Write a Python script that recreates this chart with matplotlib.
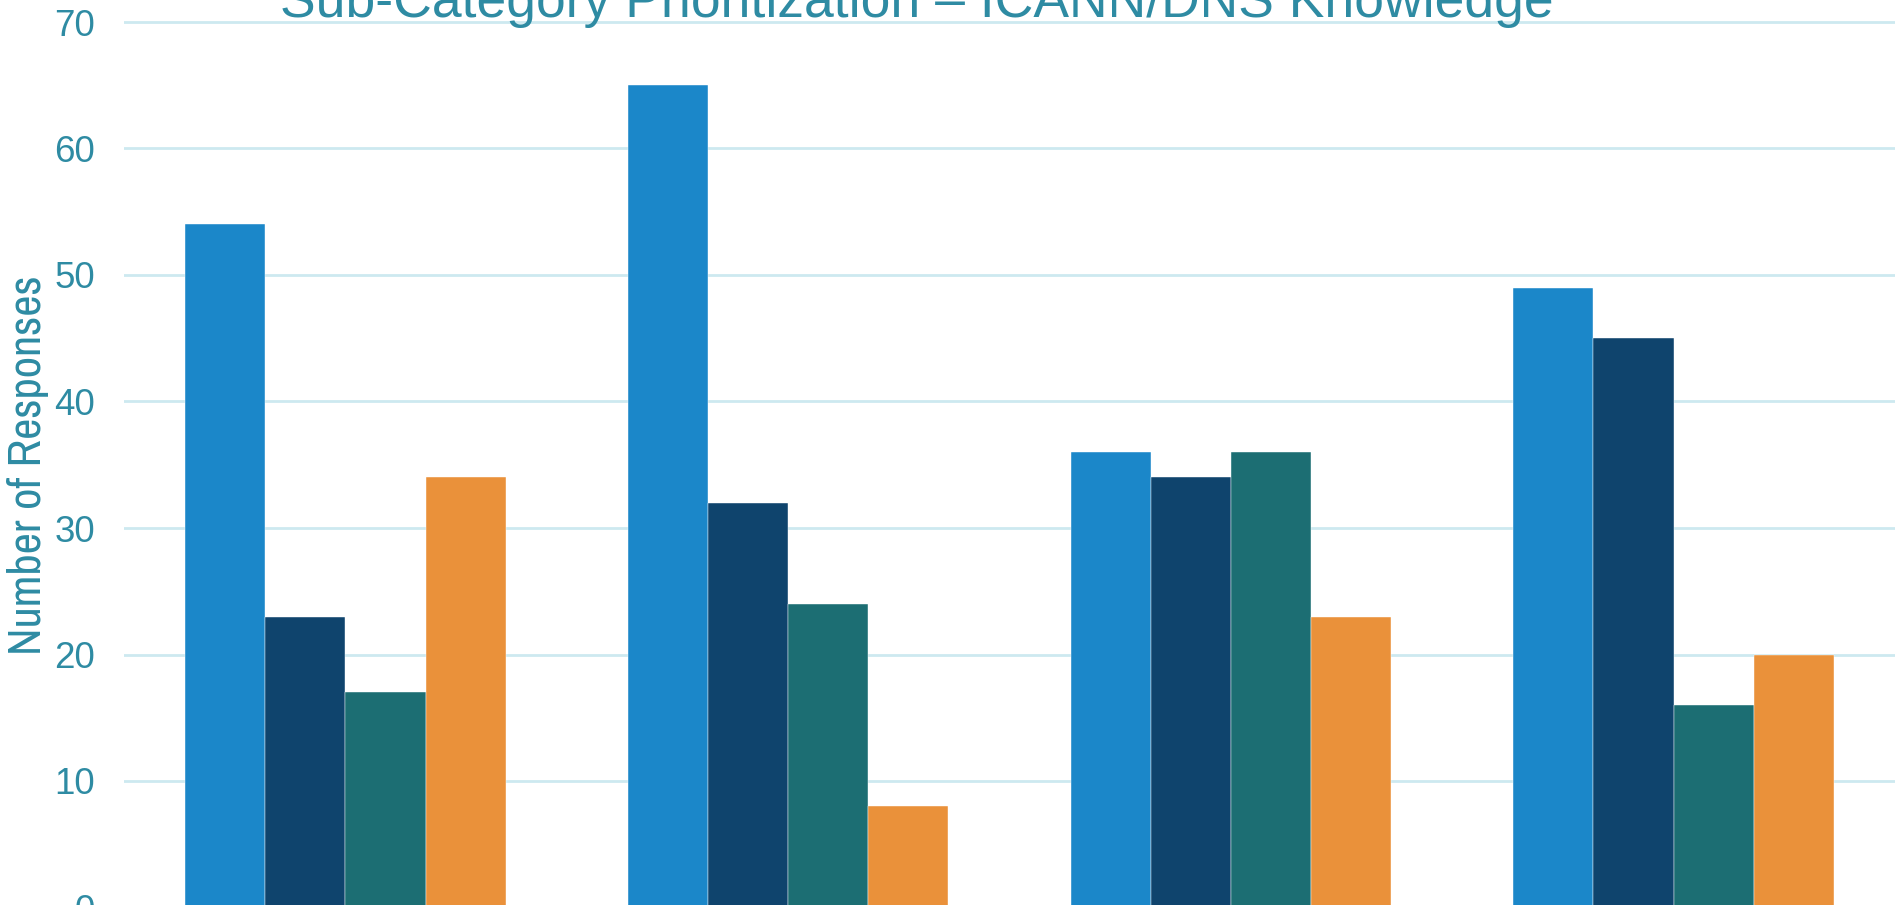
import numpy as np
import matplotlib.pyplot as plt

plt.rcParams['font.family'] = ['Liberation Sans', 'DejaVu Sans']

categories = ["Group 1", "Group 2", "Group 3", "Group 4"]
series_a = [54, 65, 36, 49]
series_b = [23, 32, 34, 45]
series_c = [17, 24, 36, 16]
series_d = [34, 8, 23, 20]
colors = ["#1B87C9", "#0F446D", "#1C6E73", "#EA913A"]
yticks = [0, 10, 20, 30, 40, 50, 60, 70]

W, H = 1902, 905
fig = plt.figure(figsize=(W / 100, H / 100), dpi=100)

# axes run a bit past the bottom edge, like the cropped original
top_px = 22 - 126.5 * 0.1
bot_px = 907.5
ax = fig.add_axes([124 / W, 1 - bot_px / H, (1895 - 124) / W, (bot_px - top_px) / H])

x = np.arange(len(categories))
bw = 0.181
for k, vals in enumerate([series_a, series_b, series_c, series_d]):
    ax.bar(x + (k - 1.5) * bw, vals, bw, color=colors[k], edgecolor="white",
           linewidth=0.3, zorder=3)

ax.set_xlim(-0.5, 3.5)
ax.set_ylim(0, 71)
ax.set_yticks(yticks)
ax.set_xticks([])
ax.grid(axis="y", color="#CDE9F0", linewidth=2, zorder=0)
for s in ax.spines.values():
    s.set_visible(False)
ax.tick_params(axis="y", length=0, pad=21, labelsize=26.5, labelcolor="#2E8BA3")

fig.text(917 / W, 1 - 17 / H, "Sub-Category Prioritization \u2013 ICANN/DNS Knowledge",
         ha="center", va="baseline", fontsize=38.5, color="#2E8BA3")
fig.text(28 / W, 1 - 465 / H, "Number of Responses", rotation=90,
         ha="center", va="center", fontsize=33.5, color="#2E8BA3",
         family=["Archivo Narrow", "Liberation Sans"])

fig.savefig("out.png", dpi=100)
